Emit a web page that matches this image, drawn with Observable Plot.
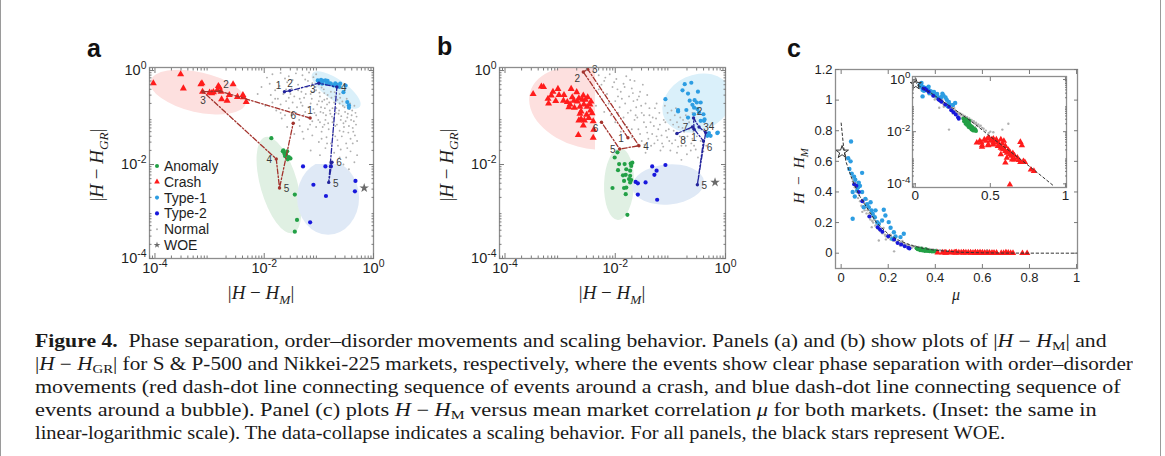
<!DOCTYPE html>
<html><head><meta charset="utf-8">
<script src="https://cdn.jsdelivr.net/npm/d3@7"></script>
<script src="https://cdn.jsdelivr.net/npm/@observablehq/plot@0.6"></script>
<style>
body{margin:0;background:#fff;}
#fig{position:relative;width:1165px;height:456px;overflow:hidden;background:#fff;font-family:"Liberation Sans",Arial,sans-serif;}
.edge{position:absolute;top:0;height:456px;width:1px;background:#9a9a9a;}
.panel{position:absolute;}
.letter{position:absolute;font-weight:bold;font-size:25px;line-height:25px;color:#111;}
.cap{position:absolute;left:35px;height:23px;line-height:23px;white-space:nowrap;font-family:"Liberation Serif","DejaVu Serif",serif;font-size:18px;color:#1a1a1a;transform-origin:0 50%;}
.cap sub{font-size:0.7em;vertical-align:-0.25em;line-height:0;}
</style></head>
<body><div id="fig">
<div class="edge" style="left:0"></div><div class="edge" style="left:1160px"></div>
<div class="letter" style="left:87px;top:36px">a</div>
<div class="letter" style="left:437px;top:34px">b</div>
<div class="letter" style="left:787px;top:36px">c</div>
<div class="panel" id="pa" style="left:90px;top:40px"></div>
<div class="panel" id="pb" style="left:440px;top:40px"></div>
<div class="panel" id="pc" style="left:780px;top:40px"></div>
<div class="panel" id="pi" style="left:870px;top:70px"></div>
<div class="cap" data-w="1072" style="top:330px"><b>Figure 4.</b>&nbsp; Phase separation, order–disorder movements and scaling behavior. Panels (a) and (b) show plots of |<i>H</i> − <i>H</i><sub>M</sub>| and</div>
<div class="cap" data-w="1098" style="top:353px">|<i>H</i> − <i>H</i><sub>GR</sub>| for S &amp; P-500 and Nikkei-225 markets, respectively, where the events show clear phase separation with order–disorder</div>
<div class="cap" data-w="1086" style="top:376px">movements (red dash-dot line connecting sequence of events around a crash, and blue dash-dot line connecting sequence of</div>
<div class="cap" data-w="1062" style="top:399px">events around a bubble). Panel (c) plots <i>H</i> − <i>H</i><sub>M</sub> versus mean market correlation <i>μ</i> for both markets. (Inset: the same in</div>
<div class="cap" data-w="970" style="top:422px">linear-logarithmic scale). The data-collapse indicates a scaling behavior. For all panels, the black stars represent WOE.</div>
</div>
<script>
// ================= DATA =================
// Panels a, b: pairs of [log10 |H-HM|, log10 |H-HGR|]
// ---- Panel a (S&P-500)
const normalA = [
 [-1.85,-0.08],[-1.7,-0.05],[-1.55,-0.12],[-1.42,-0.06],[-1.3,-0.1],[-1.18,-0.04],[-1.1,-0.14],[-1.62,-0.17],[-1.95,-0.15],[-1.25,-0.19],[-1.48,-0.2],[-1.05,-0.08],
 [-2.05,-0.35],[-1.9,-0.28],[-1.8,-0.42],[-1.72,-0.33],[-1.65,-0.5],[-1.58,-0.25],[-1.5,-0.38],[-1.45,-0.55],[-1.38,-0.3],[-1.32,-0.45],[-1.27,-0.58],[-1.22,-0.35],[-1.15,-0.5],[-1.12,-0.27],[-1.05,-0.42],[-0.98,-0.55],[-0.95,-0.36],[-0.9,-0.48],[-0.85,-0.6],[-0.78,-0.45],[-0.7,-0.55],[-0.62,-0.5],[-1.88,-0.52],[-1.75,-0.6],[-1.6,-0.4],[-1.35,-0.6],[-1.2,-0.22],[-1.0,-0.3],[-1.55,-0.58],[-2.12,-0.5],
 [-1.98,-0.75],[-1.85,-0.68],[-1.78,-0.85],[-1.7,-0.72],[-1.62,-0.95],[-1.55,-0.8],[-1.48,-0.68],[-1.42,-0.9],[-1.36,-1.05],[-1.3,-0.75],[-1.25,-0.88],[-1.2,-1.0],[-1.15,-0.7],[-1.1,-0.82],[-1.05,-0.95],[-1.0,-0.65],[-0.96,-0.78],[-0.92,-0.9],[-0.88,-1.05],[-0.85,-0.72],[-0.8,-0.85],[-0.76,-0.98],[-0.72,-0.68],[-0.68,-0.8],[-0.64,-0.92],[-0.6,-1.05],[-0.56,-0.75],[-0.52,-0.88],[-0.48,-1.0],[-0.44,-0.82],[-0.4,-0.95],[-0.36,-1.08],[-0.33,-0.9],[-1.12,-1.08],[-0.98,-1.1],[-0.75,-1.1],[-1.4,-0.78],[-0.9,-0.62],[-0.62,-0.7],[-1.68,-1.02],
 [-1.58,-1.2],[-1.45,-1.35],[-1.35,-1.18],[-1.28,-1.45],[-1.2,-1.25],[-1.12,-1.38],[-1.05,-1.2],[-1.0,-1.52],[-0.95,-1.3],[-0.9,-1.15],[-0.86,-1.42],[-0.82,-1.25],[-0.78,-1.55],[-0.74,-1.35],[-0.7,-1.18],[-0.66,-1.48],[-0.62,-1.28],[-0.58,-1.4],[-0.54,-1.2],[-0.5,-1.55],[-0.46,-1.32],[-0.42,-1.45],[-0.38,-1.22],[-0.34,-1.38],[-0.3,-1.5],[-0.55,-1.12],[-0.65,-1.6],
 [-1.15,-1.7],[-0.98,-1.8],[-0.88,-1.65],[-0.72,-1.75],[-0.6,-1.68],[-0.5,-1.85],[-0.42,-1.72],[-0.35,-1.95],[-0.3,-1.8],[-0.55,-2.0],[-0.45,-2.1],[-0.8,-1.95],
 [-1.38,-0.42],[-1.33,-0.68],[-1.28,-0.95],[-1.24,-0.5],[-1.19,-0.78],[-1.16,-1.15],[-1.13,-0.6],[-1.08,-0.9],[-1.06,-0.35],[-1.03,-0.72],[-1.01,-1.05],[-0.99,-0.47],[-0.97,-0.88],[-0.94,-0.66],[-0.93,-1.2],[-0.91,-0.4],[-0.89,-0.8],[-0.87,-0.95],[-0.84,-0.52],[-0.83,-1.12],[-0.81,-0.68],[-0.79,-0.92],[-0.77,-0.58],[-0.75,-0.8],[-0.73,-1.02],[-0.71,-0.46],[-0.69,-0.9],[-0.67,-1.15],[-0.66,-0.62],[-0.63,-0.85],[-0.61,-0.58],[-0.59,-0.97],[-0.57,-0.66],[-0.55,-1.3],[-0.53,-0.78],[-0.51,-1.08],[-0.49,-0.6],[-0.47,-0.92],[-0.45,-1.18],[-0.43,-0.7],[-0.41,-1.05],[-0.39,-0.85],[-0.37,-1.3],[-0.35,-0.75],[-0.32,-1.15],[-0.31,-0.98],[-1.5,-0.95],[-1.45,-1.12],[-1.6,-0.65],[-1.7,-0.9],[-1.8,-0.6],[-1.52,-0.5],[-1.1,-0.45],[-0.95,-1.45],[-0.7,-1.4],[-0.48,-1.65],[-0.38,-1.55],[-0.62,-1.85],[-0.85,-1.55],[-1.3,-1.3]
];
const anomalyA = [[-1.87,-1.44],[-1.66,-1.72],[-1.63,-1.77],[-1.60,-1.79],[-1.58,-1.72],[-1.55,-1.84],[-1.52,-1.87],[-1.57,-1.89],[-1.44,-2.64],[-1.40,-3.18],[-1.44,-3.43],[-1.65,-1.70],[-1.62,-1.82]];
const crashA = [[-4.03,-0.27],[-3.53,-0.08],[-3.48,-0.38],[-3.16,-0.29],[-3.14,-0.27],[-3.13,-0.45],[-2.96,-0.48],[-2.93,-0.46],[-2.84,-0.33],[-2.82,-0.36],[-2.79,-0.45],[-2.78,-0.61],[-2.68,-0.64],[-2.64,-0.52],[-2.57,-0.29],[-2.49,-0.56],[-2.39,-0.52],[-2.38,-0.57],[-2.33,-0.67],[-3.0,-0.47],[-2.86,-0.42]];
const type1A = [[-1.02,-0.21],[-0.99,-0.25],[-0.96,-0.20],[-0.92,-0.22],[-0.88,-0.21],[-0.84,-0.22],[-0.80,-0.27],[-0.78,-0.28],[-0.73,-0.32],[-0.70,-0.27],[-0.67,-0.30],[-0.61,-0.28],[-0.62,-0.35],[-0.51,-0.32],[-0.55,-0.46],[-0.48,-0.67],[-0.45,-0.74],[-0.45,-0.79],[-0.86,-0.28],[-0.94,-0.28]];
const type2A = [[-1.29,-2.04],[-0.88,-2.04],[-0.78,-2.04],[-1.10,-2.43],[-0.87,-2.67],[-0.33,-2.35],[-0.34,-2.57],[-1.16,-3.23]];
const woeA = [[-0.17,-2.50]];
const crashPathA = [[-1.16,-1.01],[-2.81,-0.44],[-3.12,-0.45],[-1.78,-1.88],[-1.72,-2.50],[-1.47,-1.12]];
const crashLabelA = ["n","ne","s","w","e","n"];
const bubblePathA = [[-1.63,-0.45],[-1.53,-0.43],[-1.0,-0.27],[-0.67,-0.35],[-0.82,-2.38],[-0.76,-1.95]];
const bubbleLabelA = ["nw","n","sw","e","e","e"];

// ---- Panel b (Nikkei-225)
const normalB = [
 [-2.3,-0.1],[-2.2,-0.22],[-2.1,-0.08],[-2.05,-0.35],[-1.98,-0.18],[-1.9,-0.45],[-1.85,-0.28],[-1.8,-0.12],[-1.75,-0.55],[-1.7,-0.38],[-1.65,-0.22],[-1.6,-0.62],[-1.55,-0.45],[-1.5,-0.3],[-1.45,-0.7],[-1.42,-0.52],[-2.3,-0.4],[-2.25,-0.6],[-2.15,-0.5],[-2.0,-0.65],[-1.92,-0.78],[-1.82,-0.7],[-1.72,-0.85],[-1.62,-0.78],[-1.52,-0.9],[-2.35,-0.75],[-2.2,-0.88],[-2.08,-0.95],[-1.95,-0.55],[-1.68,-0.48],
 [-2.0,-1.1],[-1.9,-1.3],[-1.85,-1.0],[-1.78,-1.2],[-1.7,-1.42],[-1.65,-1.05],[-1.58,-1.25],[-1.52,-1.5],[-1.48,-1.1],[-1.42,-1.32],[-1.38,-0.95],[-1.35,-1.6],[-1.3,-1.18],[-1.25,-1.4],[-1.2,-0.9],[-1.18,-1.7],[-1.12,-1.05],[-1.08,-1.28],[-1.02,-1.5],[-0.98,-0.85],[-0.95,-1.15],[-0.9,-1.35],[-0.86,-1.62],[-0.82,-1.0],[-0.78,-1.22],[-0.74,-1.45],[-0.7,-1.78],[-0.66,-1.1],[-0.62,-1.55],[-0.58,-1.3],[-0.54,-1.68],[-0.5,-1.85],[-1.28,-0.8],[-1.1,-0.75],[-0.92,-0.95],[-1.45,-1.75],[-1.6,-1.6],[-0.8,-1.9],[-1.15,-1.55],[-1.0,-1.7],[-0.45,-1.5],[-0.4,-1.72],[-0.35,-1.6],[-0.6,-0.9],[-1.32,-1.0],[-1.55,-1.35],[-0.88,-1.1],[-1.22,-1.25],
 [-2.25,-0.3],[-2.18,-0.15],[-2.12,-0.7],[-2.02,-0.25],[-1.96,-0.4],[-1.88,-0.6],[-1.83,-0.35],[-1.77,-0.9],[-1.73,-0.2],[-1.67,-0.65],[-1.63,-0.95],[-1.57,-0.55],[-1.53,-0.75],[-1.48,-0.95],[-1.44,-1.2],[-1.4,-1.45],[-1.36,-1.1],[-1.33,-1.35],[-1.29,-1.55],[-1.26,-1.02],[-1.23,-1.48],[-1.19,-1.15],[-1.16,-1.38],[-1.13,-1.62],[-1.09,-1.1],[-1.06,-1.42],[-1.03,-1.25],[-1.0,-1.05],[-0.97,-1.55],[-0.94,-1.28],[-0.91,-1.48],[-0.88,-1.75],[-0.85,-1.2],[-0.83,-1.4],[-0.8,-1.6],[-0.77,-1.05],[-0.75,-1.3],[-0.72,-1.6],[-0.69,-1.4],[-0.66,-1.25],[-0.63,-1.7],[-0.6,-1.45],[-0.57,-1.6],[-0.55,-1.05],[-0.52,-1.4],[-1.7,-1.25],[-1.82,-1.15],[-1.95,-0.9],[-1.6,-1.0],[-1.47,-1.58],[-1.38,-0.8],[-1.25,-0.7],[-1.05,-0.9],[-0.9,-0.8],[-0.72,-0.95]
];
const anomalyB = [[-1.96,-1.74],[-2.01,-1.85],[-1.93,-1.99],[-1.83,-1.99],[-1.72,-1.98],[-1.69,-1.96],[-1.71,-2.03],[-1.80,-2.10],[-1.95,-2.12],[-1.73,-2.13],[-1.81,-2.22],[-1.73,-2.24],[-1.75,-2.31],[-1.71,-2.33],[-1.84,-2.35],[-1.73,-2.38],[-1.80,-2.49],[-2.05,-2.50],[-1.84,-2.50],[-1.81,-2.63],[-1.78,-3.07],[-1.86,-2.23]];
const crashB = [[-3.49,-0.50],[-3.34,-0.34],[-3.30,-0.35],[-3.22,-0.60],[-3.21,-0.70],[-3.16,-0.53],[-3.13,-0.45],[-3.08,-0.65],[-3.04,-0.39],[-3.02,-0.52],[-2.94,-0.64],[-2.93,-0.52],[-2.87,-0.67],[-2.84,-0.78],[-2.82,-0.72],[-2.80,-0.39],[-2.75,-0.64],[-2.74,-0.79],[-2.70,-0.46],[-2.69,-0.66],[-2.66,-0.59],[-2.64,-0.77],[-2.64,-0.92],[-2.62,-0.87],[-2.60,-0.62],[-2.58,-0.53],[-2.57,-0.72],[-2.56,-1.06],[-2.54,-0.62],[-2.52,-0.94],[-2.51,-0.77],[-2.50,-0.57],[-2.48,-1.01],[-2.46,-0.72],[-2.45,-0.85],[-2.44,-0.66],[-2.42,-0.91],[-2.40,-1.08],[-2.39,-1.26],[-2.67,-1.37],[-2.40,-1.43],[-2.62,-1.03],[-2.58,-1.17],[-2.78,-0.57],[-2.66,-1.06]];
const type1B = [[-1.09,-0.61],[-0.74,-0.29],[-0.62,-0.26],[-0.78,-0.42],[-0.68,-0.49],[-0.50,-0.45],[-0.86,-0.84],[-0.71,-0.84],[-0.65,-0.64],[-0.56,-0.63],[-0.52,-0.68],[-0.45,-0.68],[-0.60,-0.73],[-0.57,-0.79],[-0.51,-0.82],[-0.68,-1.0],[-0.40,-0.93],[-0.39,-1.07],[-0.38,-1.04],[-0.45,-1.07],[-0.33,-1.39],[-0.27,-1.39],[-0.14,-1.32],[-0.57,-0.93],[-0.48,-0.89],[-0.86,-0.87],[-0.30,-1.33],[-0.15,-1.33]];
const type2B = [[-1.33,-2.04],[-1.25,-2.13],[-1.29,-2.22],[-1.09,-2.01],[-1.63,-2.37],[-1.59,-2.40],[-1.45,-2.38],[-1.59,-2.64],[-1.24,-2.75]];
const woeB = [[-0.19,-2.38]];
const crashPathB = [[-1.77,-1.43],[-2.58,-0.03],[-2.50,0.03],[-1.57,-1.60],[-1.92,-1.67],[-2.25,-1.10]];
const crashLabelB = ["w","sw","e","e","w","sw"];
const bubblePathB = [[-0.57,-1.25],[-0.58,-1.01],[-0.48,-1.20],[-0.36,-1.32],[-0.51,-2.43],[-0.40,-1.50],[-0.60,-1.20],[-0.88,-1.34]];
const bubbleLabelB = ["s","ne","e","ne","e","se","w","se"];

// ---- Panel c: pairs of [mu, H-HM]
const normalC = [[0.045,0.50],[0.05,0.47],[0.058,0.43],[0.062,0.46],[0.065,0.40],[0.07,0.42],[0.072,0.36],[0.076,0.38],[0.08,0.34],[0.083,0.40],[0.086,0.31],[0.09,0.35],[0.093,0.30],[0.097,0.33],[0.1,0.28],[0.104,0.30],[0.108,0.26],[0.112,0.28],[0.116,0.24],[0.12,0.26],[0.124,0.22],[0.128,0.24],[0.132,0.21],[0.136,0.20],[0.14,0.22],[0.145,0.18],[0.15,0.19],[0.155,0.16],[0.16,0.17],[0.165,0.145],[0.17,0.15],[0.175,0.13],[0.18,0.14],[0.186,0.12],[0.19,0.11],[0.196,0.118],[0.2,0.10],[0.206,0.105],[0.21,0.09],[0.216,0.095],[0.22,0.082],[0.228,0.085],[0.235,0.072],[0.24,0.078],[0.248,0.065],[0.255,0.07],[0.262,0.058],[0.27,0.062],[0.278,0.052],[0.285,0.055],[0.292,0.047],[0.3,0.05],[0.308,0.043],[0.315,0.045],[0.322,0.038],[0.33,0.04],[0.338,0.034],[0.345,0.036],[0.352,0.03],[0.36,0.032],[0.368,0.027],[0.375,0.028],[0.382,0.024],[0.39,0.025],[0.398,0.021],[0.405,0.022],[0.412,0.018],[0.42,0.019],[0.428,0.016],[0.436,0.017],[0.445,0.014],[0.455,0.013],[0.16,0.083],[0.225,0.012],[0.62,0.020],[0.58,0.012],[0.12,0.3],[0.14,0.25],[0.18,0.165],[0.21,0.12],[0.26,0.08],[0.25,0.05],[0.19,0.09],[0.13,0.17],[0.3,0.035],[0.35,0.025],[0.4,0.015],[0.09,0.27],[0.11,0.35],[0.47,0.011],[0.49,0.009],[0.5,0.010],[0.52,0.0095]];
const type1C = [[0.042,0.73],[0.089,0.525],[0.049,0.40],[0.058,0.37],[0.068,0.41],[0.072,0.43],[0.049,0.225],[0.089,0.40],[0.103,0.355],[0.110,0.32],[0.125,0.333],[0.129,0.28],[0.134,0.258],[0.143,0.235],[0.153,0.203],[0.160,0.192],[0.181,0.284],[0.188,0.246],[0.202,0.203],[0.210,0.166],[0.224,0.137],[0.231,0.109],[0.252,0.105],[0.266,0.127],[0.217,0.094],[0.174,0.214],[0.146,0.28],[0.117,0.30],[0.096,0.30],[0.03,0.62],[0.035,0.55],[0.04,0.6],[0.045,0.52],[0.055,0.5],[0.06,0.48],[0.075,0.46],[0.08,0.44]];
const type2C = [[0.055,0.45],[0.065,0.44],[0.075,0.40],[0.09,0.34],[0.155,0.17],[0.165,0.155],[0.175,0.14],[0.225,0.09],[0.24,0.066],[0.255,0.056],[0.27,0.046],[0.285,0.036],[0.29,0.031],[0.12,0.24],[0.2,0.11]];
const anomalyC = [[0.32,0.032],[0.325,0.025],[0.33,0.028],[0.335,0.02],[0.34,0.024],[0.345,0.018],[0.35,0.022],[0.355,0.015],[0.36,0.02],[0.365,0.014],[0.37,0.017],[0.375,0.012],[0.38,0.015],[0.385,0.011],[0.39,0.013],[0.395,0.011],[0.4,0.012],[0.405,0.0105],[0.34,0.03],[0.36,0.026]];
const crashC = [[0.41,0.0038],[0.43,0.0044],[0.44,0.0038],[0.445,0.0030],[0.46,0.0050],[0.47,0.0044],[0.48,0.0054],[0.486,0.0032],[0.49,0.0059],[0.50,0.0044],[0.51,0.0050],[0.52,0.0038],[0.52,0.0032],[0.53,0.0044],[0.54,0.0050],[0.55,0.0038],[0.55,0.0028],[0.56,0.0032],[0.57,0.0024],[0.58,0.0035],[0.58,0.0022],[0.59,0.0021],[0.60,0.0028],[0.60,0.0018],[0.61,0.00155],[0.62,0.0020],[0.63,0.00135],[0.63,0.00166],[0.64,0.00117],[0.645,0.00085],[0.65,0.00148],[0.66,0.00085],[0.66,0.00123],[0.68,0.0010],[0.69,0.00081],[0.70,0.0040],[0.71,0.0030],[0.70,0.00068],[0.72,0.00074],[0.73,0.00068],[0.60,0.00065],[0.57,0.00135],[0.61,0.0010],[0.77,0.00035],[0.79,0.00031],[0.63,0.000093],[0.52,0.0054],[0.486,0.0030],[0.445,0.0026],[0.57,0.0050],[0.59,0.0044]];
const woeC = [[0.004,0.66]];
const fitMu = [0,0.01,0.02,0.04,0.055,0.08,0.1,0.15,0.2,0.25,0.3,0.35,0.4,0.5,0.6,0.7,0.8,0.92,1.0];
const fitH  = [0.85,0.70,0.60,0.51,0.45,0.37,0.32,0.20,0.125,0.08,0.05,0.031,0.019,0.0065,0.0024,0.00088,0.00031,0.000085,0.00004];

// tick labels
const logTicks = [1e-4, 1e-2, 1];
const cTicksX = [0,0.2,0.4,0.6,0.8,1];
const cTicksY = [0,0.2,0.4,0.6,0.8,1,1.2];
const insetTicksX = [0,0.5,1];
const legendNames = ["Anomaly","Crash","Type-1","Type-2","Normal","WOE"];

// shaded regions: centre [log10 x, log10 y], semi-axes (px), tilt (deg)
const regionsA = [
 {cx:-3.2, cy:-0.47, rx:49, ry:20, tilt:13, color:"#fde0df"},
 {cx:-0.675, cy:-0.425, rx:29, ry:10.5, tilt:35, color:"#daf0fa"},
 {cx:-1.72, cy:-2.446, rx:50, ry:18.5, tilt:74, color:"#e0f0e3"},
 {cx:-0.822, cy:-2.72, rx:31, ry:37, tilt:0, color:"#dfe9f6", cutAbove:-2.0}
];
const regionsB = [
 {cx:-2.485, cy:-0.807, rx:60, ry:40, tilt:15, color:"#fde0df", cutRight:-2.358},
 {cx:-0.507, cy:-0.701, rx:36, ry:28, tilt:-25, color:"#daf0fa"},
 {cx:-1.922, cy:-2.424, rx:36, ry:15, tilt:92, color:"#e0f0e3"},
 {cx:-1.033, cy:-2.435, rx:36, ry:20, tilt:-5, color:"#dfe9f6"}
];

// ================= DRAWING =================
const C = {anomaly:"#23a046", crash:"#ff1c1c", type1:"#2d9de2", type2:"#1818dc", normal:"#b0b0b0", woe:"#6a6a6a", crashPath:"#a3322c", bubblePath:"#23249c", tick:"#7a7a7a", frame:"#8d8d8d"};
const ns = "http://www.w3.org/2000/svg";
const L = arr => arr.map(([a,b]) => ({x: 10**a, y: 10**b}));
const V = arr => arr.map(([a,b]) => ({x: a, y: b}));
let uid = 0;
const baseStyle = fs => ({fontFamily: "'Liberation Sans',Arial,sans-serif", fontSize: fs + "px", color: "#1e1e1e", background: "transparent", overflow: "visible"});

function regionMark(regions) {
  return (index, scales, values, dim) => {
    const g = document.createElementNS(ns, "g");
    const defs = document.createElementNS(ns, "defs"); g.appendChild(defs);
    const fx0 = dim.marginLeft, fy0 = dim.marginTop, fx1 = dim.width - dim.marginRight, fy1 = dim.height - dim.marginBottom;
    for (const r of regions) {
      let x0 = fx0, x1 = fx1, y0 = fy0, y1 = fy1;
      if (r.cutAbove != null) y0 = Math.max(y0, scales.y(10 ** r.cutAbove));
      if (r.cutRight != null) x1 = Math.min(x1, scales.x(10 ** r.cutRight));
      const id = "rg" + (++uid);
      const cp = document.createElementNS(ns, "clipPath"); cp.setAttribute("id", id);
      const rect = document.createElementNS(ns, "rect");
      rect.setAttribute("x", x0); rect.setAttribute("y", y0);
      rect.setAttribute("width", x1 - x0); rect.setAttribute("height", y1 - y0);
      cp.appendChild(rect); defs.appendChild(cp);
      const gg = document.createElementNS(ns, "g"); gg.setAttribute("clip-path", `url(#${id})`);
      const cx = scales.x(10 ** r.cx), cy = scales.y(10 ** r.cy);
      const e = document.createElementNS(ns, "ellipse");
      e.setAttribute("cx", cx); e.setAttribute("cy", cy);
      e.setAttribute("rx", r.rx); e.setAttribute("ry", r.ry);
      e.setAttribute("transform", `rotate(${r.tilt},${cx},${cy})`);
      e.setAttribute("fill", r.color);
      gg.appendChild(e); g.appendChild(gg);
    }
    return g;
  };
}

const sideOffset = {n:[0,-7], s:[0,9], e:[7,1], w:[-7,1], ne:[6,-6], nw:[-6,-6], se:[6,7], sw:[-6,7]};
function pathLabels(path, sides) {
  const rows = path.map(([a,b],i) => ({x:10**a, y:10**b, n:String(i+1), side:sides[i]}));
  return Object.entries(sideOffset).map(([k,[dx,dy]]) =>
    Plot.text(rows.filter(r => r.side === k), {x:"x", y:"y", text:"n", dx, dy, fontSize:10, fill:"#3a3a3a"}));
}

function minorLog(lo, hi) {
  const out = [];
  for (let k = -6; k <= 1; k++) for (let m = 2; m <= 9; m++) { const v = m * 10**k; if (v > lo && v < hi) out.push(v); }
  return out;
}

function boxAxes({xt, yt, xfmt, yfmt, xminor = [], yminor = [], xpad = 8, ypad = 3, major = 5, minor = 2.5, fs = 13}) {
  const res = [
    Plot.axisX({ticks: xt, anchor: "bottom", tickSize: 0, tickPadding: xpad, tickFormat: xfmt, label: null, fill: "#1e1e1e", fontSize: fs}),
    Plot.axisY({ticks: yt, anchor: "left", tickSize: 0, tickPadding: ypad, tickFormat: yfmt, label: null, fill: "#1e1e1e", fontSize: fs})
  ];
  for (const an of ["bottom","top"]) {
    res.push(Plot.axisX({ticks: xt, anchor: an, tickSize: -major, fill: "none", stroke: C.tick, label: null}));
    if (xminor.length) res.push(Plot.axisX({ticks: xminor, anchor: an, tickSize: -minor, fill: "none", stroke: C.tick, label: null}));
  }
  for (const an of ["left","right"]) {
    res.push(Plot.axisY({ticks: yt, anchor: an, tickSize: -major, fill: "none", stroke: C.tick, label: null}));
    if (yminor.length) res.push(Plot.axisY({ticks: yminor, anchor: an, tickSize: -minor, fill: "none", stroke: C.tick, label: null}));
  }
  return res;
}

const powFmt = d => "10^" + Math.round(Math.log10(d));
// typeset tick labels: explicit size on every axis label, superscripts for powers of ten
function styleTicks(svg, fs) {
  svg.querySelectorAll("g[aria-label*='axis'] text").forEach(el => { el.style.fontSize = fs + "px"; });
  d3.select(svg).selectAll("text").each(function() {
    if (this.childElementCount) return;
    const m = /^10\^(-?\d+)$/.exec(this.textContent);
    if (!m) return;
    this.style.fontSize = fs + "px";
    const s = d3.select(this); s.text(null);
    s.append("tspan").text("10");
    s.append("tspan").attr("dy", "-0.55em").style("font-size", (fs * 0.72) + "px").text(m[1]);
  });
}

function addMath(svg, x, y, parts, size, rotate) {
  const t = d3.select(svg).append("text")
    .attr("transform", `translate(${x},${y})` + (rotate ? " rotate(-90)" : ""))
    .attr("text-anchor", "middle").attr("font-family", "'Liberation Serif','DejaVu Serif',serif")
    .attr("font-size", size).attr("fill", "#1e1e1e");
  let sub = false;
  for (const [s, k] of parts) {
    const ts = t.append("tspan").text(s);
    if (k.includes("i")) ts.attr("font-style", "italic");
    if (k.includes("s")) { ts.attr("font-size", size * 0.7).attr("dy", size * 0.28); sub = true; }
    else if (sub) { ts.attr("dy", -size * 0.28); sub = false; }
  }
}

const LOGX = [10**-4.1, 1], LOGY = [1e-4, 10**0.065];
function logPanel(d, mr) {
  const svg = Plot.plot({
    width: 300, height: 275, marginLeft: 59, marginRight: mr, marginTop: 27, marginBottom: 57,
    style: baseStyle(14.5),
    x: {type: "log", domain: LOGX}, y: {type: "log", domain: LOGY},
    marks: [
      regionMark(d.regions),
      Plot.dot(L(d.normal), {x: "x", y: "y", r: 0.95, fill: C.normal}),
      Plot.dot(L(d.anomaly), {x: "x", y: "y", r: 2.1, fill: C.anomaly}),
      Plot.dot(L(d.type2), {x: "x", y: "y", r: 2.1, fill: C.type2}),
      Plot.dot(L(d.type1), {x: "x", y: "y", r: 2.1, fill: C.type1}),
      Plot.dot(L(d.crash), {x: "x", y: "y", r: 2.6, symbol: "triangle", fill: C.crash}),
      Plot.line(L(d.crashPath), {x: "x", y: "y", stroke: C.crashPath, strokeWidth: 1.3, strokeDasharray: "5,2,1.5,2"}),
      Plot.line(L(d.bubblePath), {x: "x", y: "y", stroke: C.bubblePath, strokeWidth: 1.3, strokeDasharray: "5,2,1.5,2"}),
      Plot.dot(L(d.crashPath), {x: "x", y: "y", r: 1.7, fill: C.crashPath}),
      Plot.dot(L(d.bubblePath), {x: "x", y: "y", r: 1.7, fill: C.bubblePath}),
      ...pathLabels(d.crashPath, d.crashLabel),
      ...pathLabels(d.bubblePath, d.bubbleLabel),
      Plot.dot(L(d.woe), {x: "x", y: "y", r: 3, symbol: "star", fill: C.woe}),
      Plot.frame({stroke: C.frame, strokeWidth: 1.3}),
      ...boxAxes({xt: logTicks, yt: logTicks, xfmt: powFmt, yfmt: powFmt, xminor: minorLog(LOGX[0], LOGX[1]), yminor: minorLog(LOGY[0], LOGY[1]), xpad: 4, ypad: 3, fs: 14.5})
    ]
  });
  styleTicks(svg, 14.5);
  const xl = [["|",""],["H","i"],[" − ",""],["H","i"],["M","is"],["|",""]];
  const yl = [["|",""],["H","i"],[" − ",""],["H","i"],["GR","is"],["|",""]];
  addMath(svg, 59 + (300 - 59 - mr) / 2, 259, xl, 19, false);
  addMath(svg, 13, 125, yl, 19, true);
  return svg;
}

// ---- Panel a
const svgA = logPanel({normal: normalA, anomaly: anomalyA, crash: crashA, type1: type1A, type2: type2A, woe: woeA,
  crashPath: crashPathA, crashLabel: crashLabelA, bubblePath: bubblePathA, bubbleLabel: bubbleLabelA, regions: regionsA}, 17);
// legend inside panel a
{
  const cols = [C.anomaly, C.crash, C.type1, C.type2, C.normal, C.woe];
  const g = d3.select(svgA).append("g").attr("font-family", "'Liberation Sans',Arial,sans-serif")
    .attr("font-size", 14).attr("fill", "#1e1e1e").attr("text-anchor", "start");
  legendNames.forEach((name, i) => {
    const y = 126 + i * 15.8;
    const sym = i === 1 ? d3.symbolTriangle : i === 5 ? d3.symbolStar : d3.symbolCircle;
    const size = i === 4 ? 3 : i === 5 ? 14 : i === 1 ? 14 : 13;
    g.append("path").attr("d", d3.symbol(sym, size)()).attr("transform", `translate(67,${y})`).attr("fill", cols[i]);
    g.append("text").attr("x", 74).attr("y", y + 5).text(name);
  });
}
document.getElementById("pa").appendChild(svgA);

// ---- Panel b
const svgB = logPanel({normal: normalB, anomaly: anomalyB, crash: crashB, type1: type1B, type2: type2B, woe: woeB,
  crashPath: crashPathB, crashLabel: crashLabelB, bubblePath: bubblePathB, bubbleLabel: bubbleLabelB, regions: regionsB}, 15);
document.getElementById("pb").appendChild(svgB);

// ---- Panel c main
const fit = fitMu.map((m, i) => ({x: m, y: fitH[i]}));
const linFmt = d => d === 0 ? "0" : String(+d.toFixed(1));
function cMarks() {
  return [
    Plot.dot(V(normalC), {x: "x", y: "y", r: 1.2, fill: C.normal}),
    Plot.dot(V(type1C), {x: "x", y: "y", r: 2.2, fill: C.type1}),
    Plot.dot(V(type2C), {x: "x", y: "y", r: 2.0, fill: C.type2}),
    Plot.dot(V(anomalyC), {x: "x", y: "y", r: 2.0, fill: C.anomaly}),
    Plot.dot(V(crashC), {x: "x", y: "y", r: 2.4, symbol: "triangle", fill: C.crash})
  ];
}
const svgC = Plot.plot({
  width: 310, height: 275, marginLeft: 55, marginRight: 13, marginTop: 29, marginBottom: 47,
  style: baseStyle(13),
  x: {domain: [-0.024, 1.004]}, y: {domain: [-0.1, 1.2]},
  marks: [
    ...cMarks(),
    Plot.line(fit, {x: "x", y: "y", stroke: "#333", strokeWidth: 1, strokeDasharray: "2.5,2.5"}),
    Plot.dot(V(woeC), {x: "x", y: "y", r: 4, symbol: "star", stroke: "#333", strokeWidth: 1, fill: "none"}),
    Plot.frame({stroke: C.frame, strokeWidth: 1.3}),
    ...boxAxes({xt: cTicksX, yt: cTicksY, xfmt: linFmt, yfmt: linFmt, xpad: 4, ypad: 3, major: 4, fs: 13})
  ]
});
styleTicks(svgC, 13);
addMath(svgC, 24, 136, [["H","i"],["\u2002−\u2002",""],["H","i"],["M","is"]], 15.5, true);
addMath(svgC, 176, 260, [["μ","i"]], 16, false);
document.getElementById("pc").appendChild(svgC);

// ---- Panel c inset (log y)
const INY = [10**-4.14, 10**0.115];
const svgI = Plot.plot({
  width: 205, height: 140, marginLeft: 42, marginRight: 9, marginTop: 6, marginBottom: 23,
  style: baseStyle(13.5),
  x: {domain: [-0.018, 1.007]}, y: {type: "log", domain: INY},
  marks: [
    Plot.frame({fill: "white", stroke: "none"}),
    ...cMarks(),
    Plot.line(fit.filter(d => d.y >= INY[0]), {x: "x", y: "y", stroke: "#333", strokeWidth: 1, strokeDasharray: "2.5,2.5"}),
    Plot.dot(V(woeC), {x: "x", y: "y", r: 3.5, symbol: "star", stroke: "#333", strokeWidth: 1, fill: "none"}),
    Plot.frame({stroke: C.frame, strokeWidth: 1.3}),
    ...boxAxes({xt: insetTicksX, yt: logTicks, xfmt: d => String(d), yfmt: powFmt, yminor: minorLog(INY[0], INY[1]), xpad: 3, ypad: 2, major: 4, minor: 2, fs: 13.5})
  ]
});
styleTicks(svgI, 13.5);
document.getElementById("pi").appendChild(svgI);

// ---- caption: fit each line to its measured width
document.querySelectorAll(".cap").forEach(el => {
  const w = el.scrollWidth, target = +el.dataset.w;
  if (w > 0) el.style.transform = `scaleX(${target / w})`;
});
</script>
</body></html>
